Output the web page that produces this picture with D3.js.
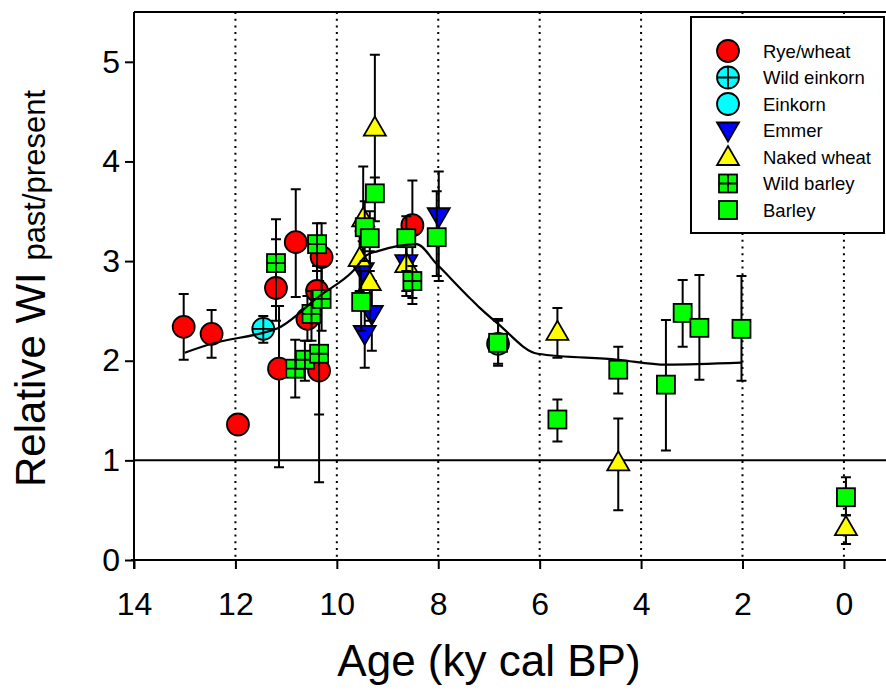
<!DOCTYPE html>
<html lang="en">
<head>
  <meta charset="UTF-8">
  <title>Relative WI</title>
  <script src="https://d3js.org/d3.v7.min.js"></script>
  <style>
    body { margin: 0; background: #fff; }
    text { font-family: "Liberation Sans", Arial, sans-serif; }
  </style>
</head>
<body>
  <div id="chart"></div>
  <script>
    // rows: [age ky cal BP, relative WI, lower, upper]
    const ryeWheat = [
      [13.02, 2.34, 2.01, 2.67],
      [12.47, 2.27, 2.03, 2.51],
      [11.95, 1.36, null, null],
      [11.20, 2.73, 2.40, 3.22],
      [11.14, 1.92, 0.93, 2.55],
      [10.81, 3.19, 2.64, 3.72],
      [10.58, 2.42, 2.20, 2.65],
      [10.39, 2.70, 2.45, 2.95],
      [10.30, 3.04, 2.70, 3.38],
      [10.35, 1.90, 0.78, 2.80],
      [8.51, 3.36, 2.57, 3.81]
    ];
    const wildEinkorn = [
      [11.45, 2.32, 2.18, 2.45]
    ];
    const einkorn = [
      [6.82, 2.17, 1.97, 2.40]
    ];
    const emmer = [
      [9.49, 2.90, 2.60, 3.20],
      [9.31, 2.47, 2.10, 2.80],
      [9.45, 2.27, 1.93, 2.60],
      [8.63, 2.98, 2.70, 3.20],
      [7.99, 3.45, 2.80, 3.90]
    ];
    const nakedWheat = [
      [9.25, 4.34, 3.60, 5.07],
      [9.48, 3.43, 3.00, 3.95],
      [9.55, 3.03, 2.70, 3.30],
      [9.35, 2.79, 2.40, 3.10],
      [8.63, 2.97, 2.65, 3.25],
      [5.65, 2.29, 2.03, 2.53],
      [4.45, 0.98, 0.50, 1.42],
      [-0.04, 0.33, 0.16, 0.45]
    ];
    const wildBarley = [
      [11.20, 2.98, 2.55, 3.42],
      [10.82, 1.92, 1.63, 2.21],
      [10.63, 2.01, 1.80, 2.20],
      [10.50, 2.47, 2.20, 2.70],
      [10.39, 3.17, 2.90, 3.38],
      [10.30, 2.62, 2.30, 2.95],
      [10.35, 2.07, 1.46, 2.60],
      [8.51, 2.80, 2.63, 2.95]
    ];
    const barley = [
      [9.25, 3.68, 3.40, 3.84],
      [9.45, 3.34, 3.00, 3.60],
      [9.35, 3.23, 2.90, 3.50],
      [9.52, 2.59, 2.30, 2.90],
      [8.63, 3.23, 2.90, 3.45],
      [8.03, 3.24, 2.85, 3.70],
      [6.82, 2.18, 1.95, 2.42],
      [5.65, 1.41, 1.19, 1.61],
      [4.45, 1.91, 1.67, 2.14],
      [3.51, 1.76, 1.10, 2.41],
      [3.18, 2.48, 2.14, 2.81],
      [2.85, 2.33, 1.81, 2.86],
      [2.02, 2.32, 1.80, 2.85],
      [-0.04, 0.63, 0.45, 0.83]
    ];

    // smoothed trend
    const trendAge = [13.0, 12.47, 11.46, 11.19, 10.34, 9.68, 9.41, 9.19, 8.43, 8.03, 7.38, 7.18, 6.82, 6.04, 4.46, 3.51, 2.02];
    const trendVal = [2.08, 2.17, 2.28, 2.32, 2.65, 2.90, 3.06, 3.10, 3.17, 2.97, 2.63, 2.53, 2.37, 2.07, 2.01, 1.96, 1.98];

    const xTicks = [14, 12, 10, 8, 6, 4, 2, 0];
    const yTicks = [0, 1, 2, 3, 4, 5];
    const gridAges = [12, 10, 8, 6, 4, 2, 0];

    const series = [
      { name: "Rye/wheat", rows: ryeWheat, shape: "circle", fill: "#ff0000", cross: false },
      { name: "Wild einkorn", rows: wildEinkorn, shape: "circle", fill: "#00ffff", cross: true },
      { name: "Einkorn", rows: einkorn, shape: "circle", fill: "#00ffff", cross: false },
      { name: "Emmer", rows: emmer, shape: "down", fill: "#0000ff", cross: false },
      { name: "Naked wheat", rows: nakedWheat, shape: "up", fill: "#ffff00", cross: false },
      { name: "Wild barley", rows: wildBarley, shape: "square", fill: "#00ff00", cross: true },
      { name: "Barley", rows: barley, shape: "square", fill: "#00ff00", cross: false }
    ];

    const width = 886, height = 691;
    const svg = d3.select("#chart").append("svg")
      .attr("width", width)
      .attr("height", height);

    const x = d3.scaleLinear().domain([14, -0.83]).range([134, 886]);
    const y = d3.scaleLinear().domain([0, 5.5]).range([560, 12]);

    // dotted verticals
    svg.selectAll(".grid")
      .data(gridAges)
      .enter().append("line")
      .attr("x1", d => x(d)).attr("x2", d => x(d))
      .attr("y1", y(5.5)).attr("y2", y(0))
      .attr("stroke", "#000")
      .attr("stroke-width", 2)
      .attr("stroke-dasharray", "2,4.7");

    // reference line at 1
    svg.append("line")
      .attr("x1", x(14)).attr("x2", width)
      .attr("y1", y(1)).attr("y2", y(1))
      .attr("stroke", "#000").attr("stroke-width", 2);

    // frame top + axes
    svg.append("line")
      .attr("x1", x(14)).attr("x2", width)
      .attr("y1", y(5.5)).attr("y2", y(5.5))
      .attr("stroke", "#000").attr("stroke-width", 2);

    const xAxis = svg.append("g")
      .attr("transform", `translate(0,${y(0)})`)
      .call(d3.axisBottom(x).tickValues(xTicks).tickFormat(d3.format("d"))
        .tickSize(9).tickPadding(23).tickSizeOuter(0));
    const yAxis = svg.append("g")
      .attr("transform", `translate(${x(14)},0)`)
      .call(d3.axisLeft(y).tickValues(yTicks).tickFormat(d3.format("d"))
        .tickSize(9).tickPadding(5).tickSizeOuter(0));

    [xAxis, yAxis].forEach(a => {
      a.select(".domain").attr("stroke-width", 2).attr("stroke", "#000");
      a.selectAll(".tick line").attr("stroke-width", 2).attr("stroke", "#000");
      a.selectAll(".tick text")
        .attr("font-size", 32)
        .attr("font-family", "Liberation Sans, Arial, sans-serif")
        .attr("fill", "#000");
    });
    xAxis.select(".domain").attr("d", `M${x(14) - 3},0H${width}`);
    yAxis.select(".domain").attr("d", `M0,${y(5.5)}V${y(0) + 9}`);

    // axis titles
    svg.append("text")
      .attr("x", x(7))
      .attr("y", 676)
      .attr("text-anchor", "middle")
      .attr("font-size", 44)
      .text("Age (ky cal BP)");

    const yt = svg.append("text")
      .attr("transform", "translate(45,487) rotate(-90)")
      .attr("font-size", 42);
    yt.append("tspan").text("Relative WI ");
    yt.append("tspan").attr("font-size", 31).text("past/present");

    function drawSymbol(g, s) {
      if (s.shape === "circle") {
        g.append("circle").attr("r", 11)
          .attr("fill", s.fill).attr("stroke", "#000").attr("stroke-width", 1.8);
        if (s.cross) {
          g.append("path").attr("d", "M-11,0H11M0,-11V11")
            .attr("stroke", "#000").attr("stroke-width", 1.8);
        }
      } else if (s.shape === "square") {
        g.append("rect").attr("x", -9).attr("y", -9).attr("width", 18).attr("height", 18)
          .attr("fill", s.fill).attr("stroke", "#000").attr("stroke-width", 1.8);
        if (s.cross) {
          g.append("path").attr("d", "M-9,0H9M0,-9V9")
            .attr("stroke", "#000").attr("stroke-width", 1.8);
        }
      } else if (s.shape === "down") {
        g.append("path").attr("d", "M-11,-8L11,-8L0,11Z")
          .attr("fill", s.fill).attr("stroke", "#000").attr("stroke-width", 1.8);
      } else {
        g.append("path").attr("d", "M-11,8L11,8L0,-11Z")
          .attr("fill", s.fill).attr("stroke", "#000").attr("stroke-width", 1.8);
      }
    }

    // error bars and symbols, series by series
    series.forEach(s => {
      const g = svg.append("g");
      const withErr = s.rows.filter(r => r[2] !== null);
      g.selectAll(".err")
        .data(withErr)
        .enter().append("path")
        .attr("d", r => {
          const cx = x(r[0]), lo = y(r[2]), hi = y(r[3]);
          return `M${cx},${lo}V${hi}M${cx - 5},${lo}H${cx + 5}M${cx - 5},${hi}H${cx + 5}`;
        })
        .attr("stroke", "#000")
        .attr("stroke-width", 2)
        .attr("fill", "none");
      g.selectAll(".pt")
        .data(s.rows)
        .enter().append("g")
        .attr("transform", r => `translate(${x(r[0])},${y(r[1])})`)
        .each(function() { drawSymbol(d3.select(this), s); });
    });

    // trend line
    const trend = trendAge.map((a, i) => [a, trendVal[i]]);
    svg.append("path")
      .datum(trend)
      .attr("d", d3.line().x(d => x(d[0])).y(d => y(d[1])).curve(d3.curveMonotoneX))
      .attr("fill", "none")
      .attr("stroke", "#000")
      .attr("stroke-width", 2.2);

    // legend
    const lg = svg.append("g");
    lg.append("rect")
      .attr("x", 691).attr("y", 17).attr("width", 193).attr("height", 216)
      .attr("fill", "#fff").attr("stroke", "#000").attr("stroke-width", 2);
    series.forEach((s, i) => {
      const row = lg.append("g").attr("transform", `translate(728,${51 + i * 26.5})`);
      drawSymbol(row, s);
      row.append("text")
        .attr("x", 35).attr("y", 0).attr("dy", "0.36em")
        .attr("font-size", 18.5)
        .text(s.name);
    });
  </script>
</body>
</html>
